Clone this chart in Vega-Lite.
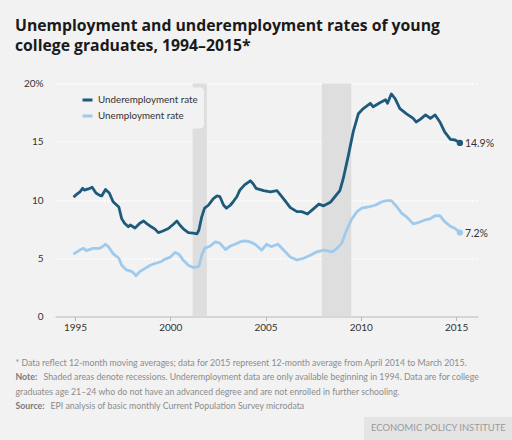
{
  "$schema": "https://vega.github.io/schema/vega-lite/v6.json",
  "width": 423,
  "height": 233,
  "autosize": {"type": "none"},
  "padding": {"left": 55, "top": 83.5, "right": 34, "bottom": 123.5},
  "background": "#f2f2f2",
  "config": {"view": {"stroke": null}, "font": "Lato"},
  "title": {
    "text": ["Unemployment and underemployment rates of young", "college graduates, 1994–2015*"],
    "anchor": "start",
    "frame": "group",
    "font": "Open Sans",
    "fontSize": 15.75,
    "fontWeight": "bold",
    "color": "#1a1a1a",
    "lineHeight": 20,
    "dx": -40,
    "offset": 24
  },
  "datasets": {
    "recessions": [
      {"year": 2001.17, "year_end": 2001.92, "kind": "Recession"},
      {"year": 2007.95, "year_end": 2009.5, "kind": "Recession"}
    ],
    "series": [
      {"series": "Underemployment rate", "year": 1994.92, "value": 10.25},
      {"series": "Underemployment rate", "year": 1995.1, "value": 10.5},
      {"series": "Underemployment rate", "year": 1995.26, "value": 10.7},
      {"series": "Underemployment rate", "year": 1995.4, "value": 11.0},
      {"series": "Underemployment rate", "year": 1995.5, "value": 10.85},
      {"series": "Underemployment rate", "year": 1995.7, "value": 10.95},
      {"series": "Underemployment rate", "year": 1995.9, "value": 11.1},
      {"series": "Underemployment rate", "year": 1996.1, "value": 10.6},
      {"series": "Underemployment rate", "year": 1996.3, "value": 10.4},
      {"series": "Underemployment rate", "year": 1996.4, "value": 10.35},
      {"series": "Underemployment rate", "year": 1996.6, "value": 10.9},
      {"series": "Underemployment rate", "year": 1996.8, "value": 10.6},
      {"series": "Underemployment rate", "year": 1997.0, "value": 9.85},
      {"series": "Underemployment rate", "year": 1997.2, "value": 9.55},
      {"series": "Underemployment rate", "year": 1997.3, "value": 9.4},
      {"series": "Underemployment rate", "year": 1997.45, "value": 8.4},
      {"series": "Underemployment rate", "year": 1997.6, "value": 8.0},
      {"series": "Underemployment rate", "year": 1997.8, "value": 7.7},
      {"series": "Underemployment rate", "year": 1997.9, "value": 7.85},
      {"series": "Underemployment rate", "year": 1998.15, "value": 7.6},
      {"series": "Underemployment rate", "year": 1998.4, "value": 8.0},
      {"series": "Underemployment rate", "year": 1998.6, "value": 8.2},
      {"series": "Underemployment rate", "year": 1998.75, "value": 8.0},
      {"series": "Underemployment rate", "year": 1999.0, "value": 7.7},
      {"series": "Underemployment rate", "year": 1999.2, "value": 7.5},
      {"series": "Underemployment rate", "year": 1999.37, "value": 7.2},
      {"series": "Underemployment rate", "year": 1999.55, "value": 7.3},
      {"series": "Underemployment rate", "year": 1999.7, "value": 7.4},
      {"series": "Underemployment rate", "year": 1999.9, "value": 7.55},
      {"series": "Underemployment rate", "year": 2000.15, "value": 7.9},
      {"series": "Underemployment rate", "year": 2000.35, "value": 8.2},
      {"series": "Underemployment rate", "year": 2000.5, "value": 7.85},
      {"series": "Underemployment rate", "year": 2000.7, "value": 7.5},
      {"series": "Underemployment rate", "year": 2000.95, "value": 7.2},
      {"series": "Underemployment rate", "year": 2001.2, "value": 7.15},
      {"series": "Underemployment rate", "year": 2001.4, "value": 7.1},
      {"series": "Underemployment rate", "year": 2001.5, "value": 7.4},
      {"series": "Underemployment rate", "year": 2001.65, "value": 8.55},
      {"series": "Underemployment rate", "year": 2001.8, "value": 9.3},
      {"series": "Underemployment rate", "year": 2002.0, "value": 9.55},
      {"series": "Underemployment rate", "year": 2002.25, "value": 10.1},
      {"series": "Underemployment rate", "year": 2002.45, "value": 10.35},
      {"series": "Underemployment rate", "year": 2002.6, "value": 10.3},
      {"series": "Underemployment rate", "year": 2002.8, "value": 9.55},
      {"series": "Underemployment rate", "year": 2002.95, "value": 9.3},
      {"series": "Underemployment rate", "year": 2003.15, "value": 9.55},
      {"series": "Underemployment rate", "year": 2003.3, "value": 9.85},
      {"series": "Underemployment rate", "year": 2003.5, "value": 10.3},
      {"series": "Underemployment rate", "year": 2003.65, "value": 10.85},
      {"series": "Underemployment rate", "year": 2003.9, "value": 11.3},
      {"series": "Underemployment rate", "year": 2004.2, "value": 11.65},
      {"series": "Underemployment rate", "year": 2004.35, "value": 11.4},
      {"series": "Underemployment rate", "year": 2004.5, "value": 11.0},
      {"series": "Underemployment rate", "year": 2004.9, "value": 10.8},
      {"series": "Underemployment rate", "year": 2005.25, "value": 10.7},
      {"series": "Underemployment rate", "year": 2005.6, "value": 10.8},
      {"series": "Underemployment rate", "year": 2005.95, "value": 10.1},
      {"series": "Underemployment rate", "year": 2006.3, "value": 9.35},
      {"series": "Underemployment rate", "year": 2006.65, "value": 9.0},
      {"series": "Underemployment rate", "year": 2006.9, "value": 9.0},
      {"series": "Underemployment rate", "year": 2007.2, "value": 8.8},
      {"series": "Underemployment rate", "year": 2007.45, "value": 9.15},
      {"series": "Underemployment rate", "year": 2007.8, "value": 9.65},
      {"series": "Underemployment rate", "year": 2008.05, "value": 9.5},
      {"series": "Underemployment rate", "year": 2008.4, "value": 9.8},
      {"series": "Underemployment rate", "year": 2008.65, "value": 10.3},
      {"series": "Underemployment rate", "year": 2008.9, "value": 10.8},
      {"series": "Underemployment rate", "year": 2009.08, "value": 11.85},
      {"series": "Underemployment rate", "year": 2009.35, "value": 13.85},
      {"series": "Underemployment rate", "year": 2009.6, "value": 15.85},
      {"series": "Underemployment rate", "year": 2009.87, "value": 17.4},
      {"series": "Underemployment rate", "year": 2010.13, "value": 17.85},
      {"series": "Underemployment rate", "year": 2010.5, "value": 18.3},
      {"series": "Underemployment rate", "year": 2010.65, "value": 18.0},
      {"series": "Underemployment rate", "year": 2011.0, "value": 18.35},
      {"series": "Underemployment rate", "year": 2011.3, "value": 18.6},
      {"series": "Underemployment rate", "year": 2011.4, "value": 18.3},
      {"series": "Underemployment rate", "year": 2011.6, "value": 19.1},
      {"series": "Underemployment rate", "year": 2011.8, "value": 18.7},
      {"series": "Underemployment rate", "year": 2012.05, "value": 17.85},
      {"series": "Underemployment rate", "year": 2012.4, "value": 17.4},
      {"series": "Underemployment rate", "year": 2012.75, "value": 17.0},
      {"series": "Underemployment rate", "year": 2012.9, "value": 16.7},
      {"series": "Underemployment rate", "year": 2013.1, "value": 16.9},
      {"series": "Underemployment rate", "year": 2013.4, "value": 17.3},
      {"series": "Underemployment rate", "year": 2013.65, "value": 17.0},
      {"series": "Underemployment rate", "year": 2013.9, "value": 17.3},
      {"series": "Underemployment rate", "year": 2014.15, "value": 16.7},
      {"series": "Underemployment rate", "year": 2014.4, "value": 15.85},
      {"series": "Underemployment rate", "year": 2014.7, "value": 15.2},
      {"series": "Underemployment rate", "year": 2014.95, "value": 15.15},
      {"series": "Underemployment rate", "year": 2015.2, "value": 14.9, "label": "14.9%"},
      {"series": "Unemployment rate", "year": 1994.92, "value": 5.35},
      {"series": "Unemployment rate", "year": 1995.25, "value": 5.7},
      {"series": "Unemployment rate", "year": 1995.45, "value": 5.85},
      {"series": "Unemployment rate", "year": 1995.6, "value": 5.65},
      {"series": "Unemployment rate", "year": 1995.95, "value": 5.85},
      {"series": "Unemployment rate", "year": 1996.3, "value": 5.85},
      {"series": "Unemployment rate", "year": 1996.6, "value": 6.2},
      {"series": "Unemployment rate", "year": 1996.75, "value": 6.0},
      {"series": "Unemployment rate", "year": 1997.0, "value": 5.4},
      {"series": "Unemployment rate", "year": 1997.3, "value": 5.0},
      {"series": "Unemployment rate", "year": 1997.45, "value": 4.4},
      {"series": "Unemployment rate", "year": 1997.7, "value": 4.0},
      {"series": "Unemployment rate", "year": 1998.0, "value": 3.85},
      {"series": "Unemployment rate", "year": 1998.2, "value": 3.5},
      {"series": "Unemployment rate", "year": 1998.4, "value": 3.85},
      {"series": "Unemployment rate", "year": 1998.7, "value": 4.15},
      {"series": "Unemployment rate", "year": 1998.95, "value": 4.4},
      {"series": "Unemployment rate", "year": 1999.2, "value": 4.55},
      {"series": "Unemployment rate", "year": 1999.5, "value": 4.7},
      {"series": "Unemployment rate", "year": 1999.7, "value": 4.9},
      {"series": "Unemployment rate", "year": 2000.0, "value": 5.1},
      {"series": "Unemployment rate", "year": 2000.25, "value": 5.5},
      {"series": "Unemployment rate", "year": 2000.45, "value": 5.35},
      {"series": "Unemployment rate", "year": 2000.7, "value": 4.8},
      {"series": "Unemployment rate", "year": 2000.95, "value": 4.4},
      {"series": "Unemployment rate", "year": 2001.2, "value": 4.2},
      {"series": "Unemployment rate", "year": 2001.5, "value": 4.3},
      {"series": "Unemployment rate", "year": 2001.65, "value": 5.25},
      {"series": "Unemployment rate", "year": 2001.8, "value": 5.85},
      {"series": "Unemployment rate", "year": 2002.1, "value": 6.05},
      {"series": "Unemployment rate", "year": 2002.35, "value": 6.4},
      {"series": "Unemployment rate", "year": 2002.6, "value": 6.3},
      {"series": "Unemployment rate", "year": 2002.9, "value": 5.75},
      {"series": "Unemployment rate", "year": 2003.15, "value": 6.05},
      {"series": "Unemployment rate", "year": 2003.4, "value": 6.2},
      {"series": "Unemployment rate", "year": 2003.65, "value": 6.4},
      {"series": "Unemployment rate", "year": 2003.9, "value": 6.5},
      {"series": "Unemployment rate", "year": 2004.2, "value": 6.4},
      {"series": "Unemployment rate", "year": 2004.45, "value": 6.2},
      {"series": "Unemployment rate", "year": 2004.8, "value": 5.7},
      {"series": "Unemployment rate", "year": 2005.05, "value": 6.2},
      {"series": "Unemployment rate", "year": 2005.3, "value": 6.0},
      {"series": "Unemployment rate", "year": 2005.65, "value": 6.2},
      {"series": "Unemployment rate", "year": 2005.95, "value": 5.7},
      {"series": "Unemployment rate", "year": 2006.3, "value": 5.1},
      {"series": "Unemployment rate", "year": 2006.65, "value": 4.85},
      {"series": "Unemployment rate", "year": 2007.0, "value": 5.0},
      {"series": "Unemployment rate", "year": 2007.35, "value": 5.25},
      {"series": "Unemployment rate", "year": 2007.7, "value": 5.55},
      {"series": "Unemployment rate", "year": 2008.05, "value": 5.7},
      {"series": "Unemployment rate", "year": 2008.5, "value": 5.55},
      {"series": "Unemployment rate", "year": 2008.75, "value": 5.85},
      {"series": "Unemployment rate", "year": 2009.0, "value": 6.3},
      {"series": "Unemployment rate", "year": 2009.25, "value": 7.4},
      {"series": "Unemployment rate", "year": 2009.5, "value": 8.3},
      {"series": "Unemployment rate", "year": 2009.8, "value": 9.0},
      {"series": "Unemployment rate", "year": 2010.05, "value": 9.3},
      {"series": "Unemployment rate", "year": 2010.4, "value": 9.4},
      {"series": "Unemployment rate", "year": 2010.75, "value": 9.55},
      {"series": "Unemployment rate", "year": 2011.1, "value": 9.85},
      {"series": "Unemployment rate", "year": 2011.35, "value": 9.95},
      {"series": "Unemployment rate", "year": 2011.6, "value": 9.95},
      {"series": "Unemployment rate", "year": 2011.9, "value": 9.4},
      {"series": "Unemployment rate", "year": 2012.15, "value": 8.85},
      {"series": "Unemployment rate", "year": 2012.4, "value": 8.55},
      {"series": "Unemployment rate", "year": 2012.75, "value": 7.95},
      {"series": "Unemployment rate", "year": 2013.0, "value": 8.05},
      {"series": "Unemployment rate", "year": 2013.4, "value": 8.3},
      {"series": "Unemployment rate", "year": 2013.65, "value": 8.4},
      {"series": "Unemployment rate", "year": 2013.9, "value": 8.65},
      {"series": "Unemployment rate", "year": 2014.15, "value": 8.65},
      {"series": "Unemployment rate", "year": 2014.4, "value": 8.15},
      {"series": "Unemployment rate", "year": 2014.7, "value": 7.75},
      {"series": "Unemployment rate", "year": 2014.95, "value": 7.55},
      {"series": "Unemployment rate", "year": 2015.2, "value": 7.2, "label": "7.2%"}
    ]
  },
  "encoding": {
    "x": {
      "field": "year",
      "type": "quantitative",
      "scale": {"domain": [1993.95, 2016.15], "nice": false, "zero": false},
      "axis": {
        "values": [1995, 2000, 2005, 2010, 2015],
        "format": "d",
        "grid": false,
        "domainColor": "#b8b8b8",
        "domainWidth": 1,
        "ticks": true,
        "tickSize": 4,
        "tickColor": "#b8b8b8",
        "labelPadding": 2,
        "labelFont": "Lato",
        "labelFontSize": 10,
        "labelColor": "#333333",
        "title": [
          "* Data reflect 12-month moving averages; data for 2015 represent 12-month average from April 2014 to March 2015.",
          "\u2800\u2800\u2800\u2800Shaded areas denote recessions. Underemployment data are only available beginning in 1994. Data are for college",
          "graduates age 21–24 who do not have an advanced degree and are not enrolled in further schooling.",
          "\u2800\u2800\u2800\u2800\u2800EPI analysis of basic monthly Current Population Survey microdata"
        ],
        "titleFont": "Lato",
        "titleFontSize": 8.75,
        "titleFontWeight": "normal",
        "titleColor": "#8c8c8c",
        "titleLineHeight": 14.5,
        "titleAlign": "left",
        "titleAnchor": "start",
        "titleBaseline": "top",
        "titleX": -40,
        "titleY": 41.5
      }
    }
  },
  "layer": [
    {
      "data": {"name": "recessions"},
      "mark": {"type": "rect"},
      "encoding": {
        "x2": {"field": "year_end"},
        "fill": {
          "field": "kind",
          "type": "nominal",
          "scale": {"domain": ["Recession"], "range": ["#dedede"]},
          "legend": {
            "orient": "none",
            "legendX": 309,
            "legendY": 333.5,
            "title": "ECONOMIC POLICY INSTITUTE",
            "titleFont": "Lato",
            "titleFontSize": 9.4,
            "titleFontWeight": "normal",
            "titleColor": "#9a9a9a",
            "titlePadding": 20,
            "fillColor": "#e4e4e4",
            "padding": 7,
            "symbolOpacity": 0,
            "symbolStrokeWidth": 0,
            "symbolSize": 0,
            "labelExpr": "''",
            "labelFontSize": 1
          }
        }
      }
    },
    {
      "data": {"name": "series"},
      "mark": {"type": "line", "strokeWidth": 2.8, "strokeJoin": "round"},
      "encoding": {
        "y": {
          "field": "value",
          "type": "quantitative",
          "scale": {"domain": [0, 20], "nice": false},
          "axis": {
            "values": [0, 5, 10, 15, 20],
            "labelExpr": "datum.value == 20 ? '20%' : datum.label",
            "domain": false,
            "ticks": false,
            "labelPadding": 12,
            "labelFont": "Lato",
            "labelFontSize": 10,
            "labelColor": "#333333",
            "grid": true,
            "gridColor": "#ffffff",
            "gridWidth": 1.5,
            "gridDash": [2, 2],
            "gridOpacity": {"condition": {"test": "datum.value === 0", "value": 0}, "value": 1},
            "title": ["Note:", "Source:"],
            "titleFont": "Lato",
            "titleFontSize": 8.75,
            "titleFontWeight": "bold",
            "titleColor": "#7a7a7a",
            "titleLineHeight": 29,
            "titleAngle": 0,
            "titleAlign": "left",
            "titleAnchor": "start",
            "titleBaseline": "top",
            "titleX": -40,
            "titleY": 289
          }
        },
        "color": {
          "field": "series",
          "type": "nominal",
          "scale": {"domain": ["Underemployment rate", "Unemployment rate"], "range": ["#1d5a7c", "#9ecaed"]},
          "legend": {
            "orient": "none",
            "legendX": 20,
            "legendY": 4,
            "title": null,
            "fillColor": "#f2f2f2",
            "cornerRadius": 4,
            "padding": 6,
            "symbolType": "stroke",
            "symbolStrokeWidth": 3,
            "symbolSize": 100,
            "labelFont": "Lato",
            "labelFontSize": 9.8,
            "labelColor": "#333333",
            "labelOffset": 4,
            "rowPadding": 3
          }
        }
      }
    },
    {
      "data": {"name": "series"},
      "transform": [{"filter": "datum.label"}],
      "mark": {"type": "circle", "size": 40, "opacity": 1},
      "encoding": {
        "y": {"field": "value", "type": "quantitative", "scale": {"domain": [0, 20], "nice": false}},
        "color": {
          "field": "series",
          "type": "nominal",
          "scale": {"domain": ["Underemployment rate", "Unemployment rate"], "range": ["#1d5a7c", "#9ecaed"]}
        }
      }
    },
    {
      "data": {"name": "series"},
      "transform": [{"filter": "datum.label"}],
      "mark": {"type": "text", "align": "left", "dx": 5, "dy": 1, "font": "Lato", "fontSize": 10.5, "color": "#333333"},
      "encoding": {
        "y": {"field": "value", "type": "quantitative", "scale": {"domain": [0, 20], "nice": false}},
        "text": {"field": "label"}
      }
    }
  ]
}
